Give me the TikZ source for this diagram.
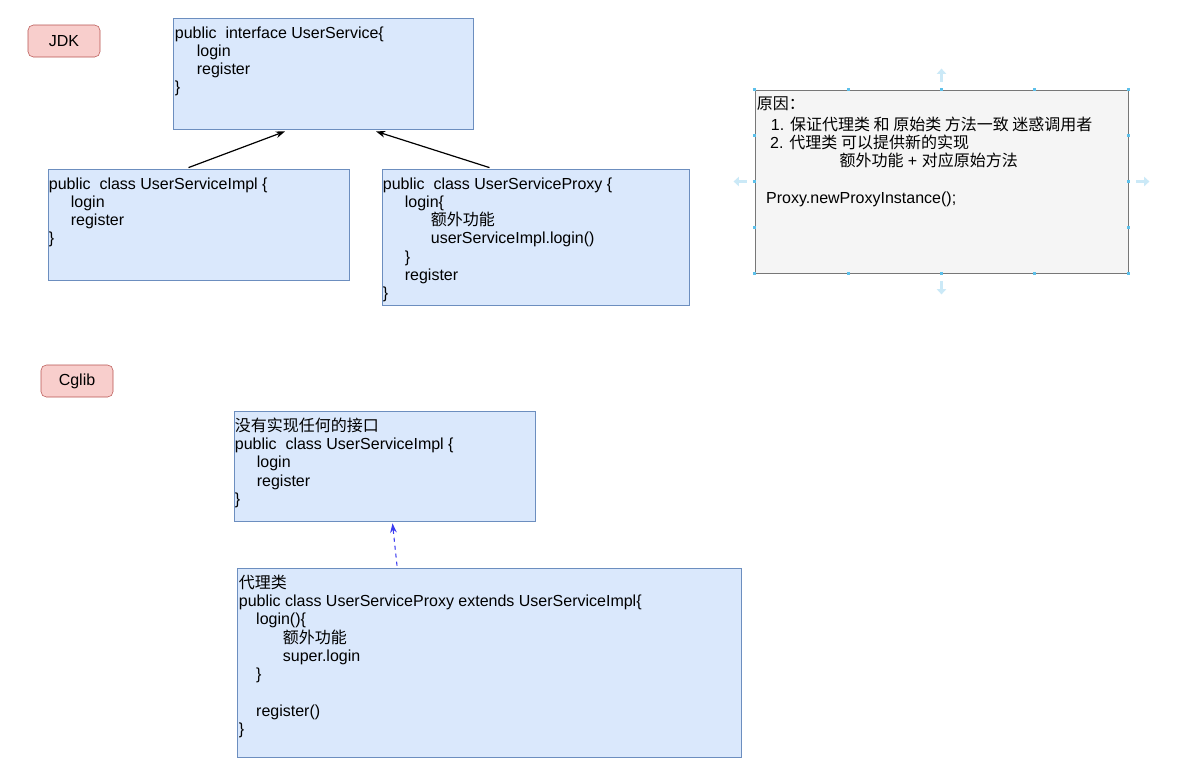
\documentclass[tikz,border=0pt]{standalone}
\usepackage{fontspec}
\setmainfont{Liberation Sans}
\newfontfamily\cjk{Noto Sans CJK SC}
\usetikzlibrary{arrows.meta,calc,fit}
\definecolor{boxfill}{HTML}{DAE8FC}
\definecolor{boxline}{HTML}{6C8EBF}
\definecolor{tagfill}{HTML}{F8CECC}
\definecolor{tagline}{HTML}{B85450}
\definecolor{notefill}{HTML}{F5F5F5}
\definecolor{noteline}{HTML}{777777}
\definecolor{handle}{HTML}{5DC0EA}
\definecolor{hint}{HTML}{CBE9F7}
\definecolor{dashblue}{HTML}{3B3BF0}
\tikzset{
	codebox/.style={draw=boxline,fill=boxfill,inner sep=0pt,line width=0.6pt},
	notebox/.style={draw=noteline,fill=notefill,inner sep=0pt,line width=0.6pt},
	tag/.style={draw=tagline,fill=tagfill,rounded corners=4pt,minimum width=54pt,minimum height=24pt,inner sep=0pt},
	code/.style={anchor=north west,align=left,inner sep=0pt},
	hintarrow/.style={hint,line width=1.6pt,-{Triangle[length=4pt,width=7pt]}}
}
\begin{document}
\begin{tikzpicture}[x=0.75pt,y=-0.75pt,>={Stealth[length=7pt,width=5pt]},font=\fontsize{12}{13.7}\selectfont]
	\fill[white] (0,0) rectangle (1191,775);
	\useasboundingbox (0,0) rectangle (1191,775);
	% JDK
	\node[tag] (jdk) at (64,41) {JDK};
	\node[codebox,fit={(173,18) (473,129)}] (iface) {};
	\node[codebox,fit={(48,169) (349,280)}] (impl) {};
	\node[codebox,fit={(382,169) (689,305)}] (proxy) {};
	\node[code] (ifacetxt) at ($(iface.north west)+(2,7.5)$) {\strut public\ \ interface UserService\{\\
		\hspace*{16.5pt}login\\
		\hspace*{16.5pt}register\\
		\}};
	\node[code] (impltxt) at ($(impl.north west)+(1,7.5)$) {\strut public\ \ class UserServiceImpl \{\\
		\hspace*{16.5pt}login\\
		\hspace*{16.5pt}register\\
		\}};
	\node[code] (proxytxt) at ($(proxy.north west)+(1,7.5)$) {\strut public\ \ class UserServiceProxy \{\\
		\hspace*{16.5pt}login\{\\
		\hspace*{36pt}{\cjk 额外功能}\\
		\hspace*{36pt}userServiceImpl.login()\\
		\hspace*{16.5pt}\}\\
		\hspace*{16.5pt}register\\
		\}};
	\draw[->,line width=0.9pt] ($(impl.north)+(-10,-1)$) -- ($(iface.south)+(-38,2)$);
	\draw[->,line width=0.9pt] ($(proxy.north)+(-46,-1)$) -- ($(iface.south)+(53,2)$);
	% note
	\node[notebox,fit={(755,90) (1128,273)}] (note) {};
	\node[code] (notetxt) at ($(note.north west)+(2,7)$) {\strut{\cjk 原因：}\\
		\hspace*{10.5pt}1. {\cjk 保证代理类 和 原始类 方法一致 迷惑调用者}\\
		\hspace*{10pt}2. {\cjk 代理类 可以提供新的实现}\\
		\hspace*{62pt}{\cjk 额外功能} + {\cjk 对应原始方法}\\[13.7pt]
		\hspace*{7pt}Proxy.newProxyInstance();};
	\foreach \t in {0,0.25,0.5,0.75,1} {
		\fill[handle] ($(note.north west)!\t!(note.north east)$) +(-1.5,-1.5) rectangle +(1.5,1.5);
		\fill[handle] ($(note.south west)!\t!(note.south east)$) +(-1.5,-1.5) rectangle +(1.5,1.5);
		\fill[handle] ($(note.north west)!\t!(note.south west)$) +(-1.5,-1.5) rectangle +(1.5,1.5);
		\fill[handle] ($(note.north east)!\t!(note.south east)$) +(-1.5,-1.5) rectangle +(1.5,1.5);
	}
	\draw[hintarrow] ($(note.north)+(0,-8)$) -- +(0,-13);
	\draw[hintarrow] ($(note.south)+(0,8)$) -- +(0,13);
	\draw[hintarrow] ($(note.west)+(-8,0)$) -- +(-13,0);
	\draw[hintarrow] ($(note.east)+(8,0)$) -- +(13,0);
	% Cglib
	\node[tag] (cglib) at (77,381) {Cglib};
	\node[codebox,fit={(234,411) (535,521)}] (base) {};
	\node[codebox,fit={(237,568) (741,757)}] (sub) {};
	\node[code] (basetxt) at ($(base.north west)+(1,7)$) {\strut{\cjk 没有实现任何的接口}\\
		public\ \ class UserServiceImpl \{\\
		\hspace*{16.5pt}login\\
		\hspace*{16.5pt}register\\
		\}};
	\node[code] (subtxt) at ($(sub.north west)+(2,7)$) {\strut{\cjk 代理类}\\
		public class UserServiceProxy extends UserServiceImpl\{\\
		\hspace*{13pt}login()\{\\
		\hspace*{33pt}{\cjk 额外功能}\\
		\hspace*{33pt}super.login\\
		\hspace*{13pt}\}\\[13.7pt]
		\hspace*{13pt}register()\\
		\}};
	\draw[->,dashblue,dashed,line width=0.8pt,dash pattern=on 3pt off 3pt] ($(sub.north)+(-92,-2)$) -- ($(base.south)+(8,2)$);
\end{tikzpicture}
\end{document}
